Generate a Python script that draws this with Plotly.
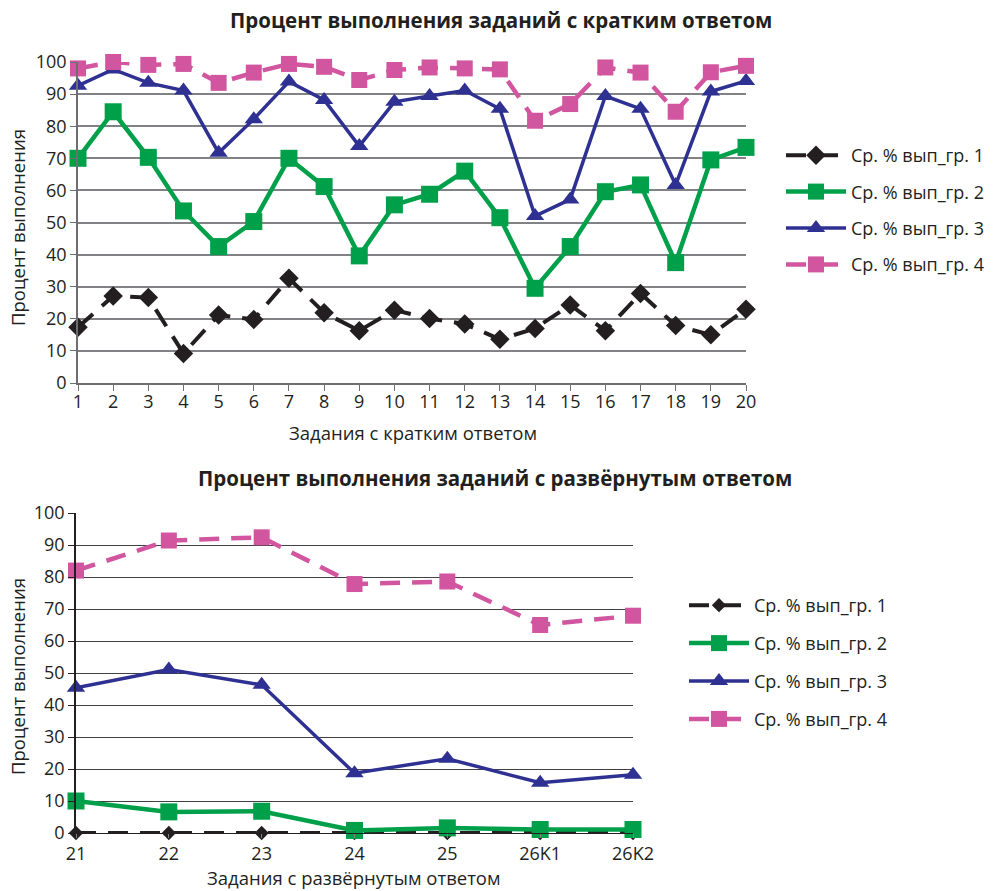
import plotly.graph_objects as go

# ---- data ----
short_tasks = list(range(1, 21))
short_g1 = [17.4, 27.1, 26.6, 9.2, 21.2, 19.8, 32.6, 21.9, 16.3, 22.7, 20.1, 18.4, 13.6, 17.0, 24.3, 16.3, 27.9, 17.9, 15.0, 23.0]
short_g2 = [70.0, 84.5, 70.3, 53.6, 42.5, 50.3, 70.0, 61.2, 39.6, 55.5, 58.8, 66.0, 51.5, 29.5, 42.5, 59.6, 61.7, 37.5, 69.5, 73.4]
short_g3 = [92.6, 97.7, 93.5, 91.1, 71.7, 82.2, 93.9, 88.2, 73.8, 87.6, 89.4, 91.1, 85.4, 52.0, 57.2, 89.4, 85.4, 61.7, 90.8, 94.1]
short_g4 = [98.0, 100.0, 99.1, 99.4, 93.5, 96.7, 99.4, 98.5, 94.4, 97.5, 98.3, 98.0, 97.7, 81.7, 86.9, 98.3, 96.7, 84.5, 96.8, 98.8]

long_tasks = ["21", "22", "23", "24", "25", "26K1", "26K2"]
long_g1 = [0, 0, 0, 0, 0, 0, 0]
long_g2 = [10.0, 6.6, 6.8, 0.8, 1.6, 1.1, 1.1]
long_g3 = [45.4, 51.1, 46.3, 18.7, 23.2, 15.7, 18.2]
long_g4 = [82.0, 91.4, 92.4, 77.8, 78.6, 65.0, 67.9]

names = ["Ср. % вып_гр. 1", "Ср. % вып_гр. 2", "Ср. % вып_гр. 3", "Ср. % вып_гр. 4"]
y_ticks = list(range(0, 101, 10))

title_top = "Процент выполнения заданий с кратким ответом"
title_bottom = "Процент выполнения заданий с развёрнутым ответом"
xtitle_top = "Задания с кратким ответом"
xtitle_bottom = "Задания с развёрнутым ответом"
ytitle = "Процент выполнения"

# ---- styles ----
FONT = "Open Sans"
TXT = "#231f20"
styles = [
    dict(color="#231f20", dash="20px,12px", width=4, symbol="diamond", msize=15),
    dict(color="#00a04b", dash="solid", width=4.5, symbol="square", msize=17),
    dict(color="#2e3192", dash="solid", width=3.5, symbol="triangle-up", msize=16),
    dict(color="#d1569f", dash="20px,12px", width=4.5, symbol="square", msize=16),
]

fig = go.Figure()

for i, ys in enumerate([short_g1, short_g2, short_g3, short_g4]):
    s = styles[i]
    fig.add_trace(go.Scatter(
        x=short_tasks, y=ys, name=names[i], mode="lines+markers",
        line=dict(color=s["color"], dash=s["dash"], width=s["width"]),
        marker=dict(symbol=s["symbol"], size=s["msize"], color=s["color"]),
        xaxis="x", yaxis="y", legend="legend", legendgroup="a%d" % i, cliponaxis=False,
    ))

for i, ys in enumerate([long_g1, long_g2, long_g3, long_g4]):
    s = styles[i]
    msize = s["msize"] if i != 0 else 11
    fig.add_trace(go.Scatter(
        x=long_tasks, y=ys, name=names[i], mode="lines+markers",
        line=dict(color=s["color"], dash=s["dash"], width=s["width"]),
        marker=dict(symbol=s["symbol"], size=msize, color=s["color"]),
        xaxis="x2", yaxis="y2", legend="legend2", legendgroup="b%d" % i, cliponaxis=False,
    ))

# the page body margin is removed (post_script), so the figure fills the window
W, H = 995, 891
def px_x(p):
    return p / W
def px_y(p):
    return 1 - p / H

axis_font = dict(family=FONT, size=18, color=TXT)
atitle_font = dict(family=FONT, size=18.5, color=TXT)
legend_font = dict(family=FONT, size=18, color=TXT)
title_font = dict(family=FONT, size=20.5, color=TXT)

fig.update_layout(
    width=W, height=H,
    margin=dict(l=0, r=0, t=0, b=0, autoexpand=False),
    paper_bgcolor="white", plot_bgcolor="white",
    font=dict(family=FONT, color=TXT),
    xaxis=dict(
        domain=[px_x(78), px_x(746)], anchor="y", automargin=False,
        range=[1, 20], tickmode="array", tickvals=short_tasks,
        ticktext=[str(t) for t in short_tasks],
        showline=True, linecolor="#6d6e71", linewidth=1.5,
        ticks="", ticklabelstandoff=2,
        minor=dict(ticks="outside", ticklen=6, tickcolor="#6d6e71", tickwidth=1.2,
                   tick0=1, dtick=1, showgrid=False),
        showgrid=False, zeroline=False, tickfont=axis_font,
    ),
    yaxis=dict(
        domain=[px_y(383), px_y(62)], anchor="x", automargin=False,
        range=[0, 100], tickvals=y_ticks,
        showline=True, linecolor="#6d6e71", linewidth=1.5,
        ticks="outside", ticklen=6, tickcolor="#6d6e71", tickwidth=1.2,
        showgrid=True, gridcolor="#808285", gridwidth=1.5, zeroline=False,
        tickfont=axis_font,
    ),
    xaxis2=dict(
        domain=[px_x(76), px_x(633)], anchor="y2", automargin=False,
        type="category", range=[0, 6],
        showline=True, linecolor="#231f20", linewidth=1.2,
        ticks="outside", ticklen=4, tickcolor="#808285", tickwidth=1,
        showgrid=False, zeroline=False, tickfont=axis_font,
    ),
    yaxis2=dict(
        domain=[px_y(833), px_y(513)], anchor="x2", automargin=False,
        range=[0, 100], tickvals=y_ticks,
        showline=True, linecolor="#231f20", linewidth=1.5,
        ticks="outside", ticklen=6, tickcolor="#231f20", tickwidth=1.2,
        showgrid=True, gridcolor="#414042", gridwidth=1.3, zeroline=False,
        tickfont=axis_font,
    ),
    legend=dict(
        x=px_x(781), y=px_y(137), xanchor="left", yanchor="top",
        font=legend_font, itemwidth=60,
        tracegroupgap=10, bgcolor="rgba(0,0,0,0)",
    ),
    legend2=dict(
        x=px_x(684), y=px_y(587), xanchor="left", yanchor="top",
        font=legend_font, itemwidth=60,
        tracegroupgap=11.5, bgcolor="rgba(0,0,0,0)",
    ),
    annotations=[
        dict(text="<b>" + title_top + "</b>", x=px_x(501), y=px_y(20), xref="paper", yref="paper",
             xanchor="center", yanchor="middle", showarrow=False, font=title_font),
        dict(text="<b>" + title_bottom + "</b>", x=px_x(495), y=px_y(478), xref="paper", yref="paper",
             xanchor="center", yanchor="middle", showarrow=False, font=title_font),
        dict(text=xtitle_top, x=px_x(413), y=px_y(432), xref="paper", yref="paper",
             xanchor="center", yanchor="middle", showarrow=False, font=atitle_font),
        dict(text=xtitle_bottom, x=px_x(354), y=px_y(877), xref="paper", yref="paper",
             xanchor="center", yanchor="middle", showarrow=False, font=atitle_font),
        dict(text=ytitle, x=px_x(18), y=px_y(228), xref="paper", yref="paper", textangle=-90,
             xanchor="center", yanchor="middle", showarrow=False, font=atitle_font),
        dict(text=ytitle, x=px_x(17), y=px_y(677), xref="paper", yref="paper", textangle=-90,
             xanchor="center", yanchor="middle", showarrow=False, font=atitle_font),
    ],
)

fig.write_html(
    "out.html",
    config={"displayModeBar": False},
    post_script="document.body.style.margin='0';document.body.style.overflow='hidden';",
)
